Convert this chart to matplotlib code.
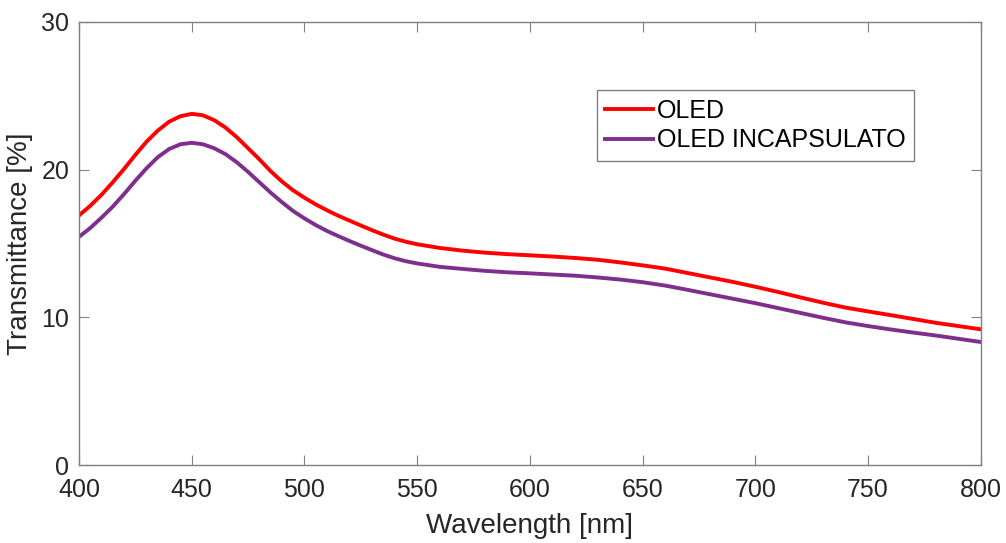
import matplotlib.pyplot as plt

plt.rcParams['font.family'] = ['Liberation Sans', 'DejaVu Sans']

# wavelength grid [nm]
wavelength = [400, 405, 410, 415, 420, 425, 430, 435, 440, 445, 450, 455, 460, 465,
              470, 475, 480, 485, 490, 495, 500, 505, 510, 515, 520, 525, 530, 535,
              540, 545, 550, 560, 570, 580, 590, 600, 610, 620, 630, 640, 650, 660,
              670, 680, 690, 700, 710, 720, 730, 740, 750, 760, 770, 780, 790, 800]

# transmittance [%]
oled = [16.9, 17.55, 18.3, 19.15, 20.05, 21.0, 21.9, 22.65, 23.25, 23.62, 23.78, 23.68,
        23.35, 22.85, 22.2, 21.45, 20.7, 19.9, 19.2, 18.6, 18.1, 17.65, 17.25, 16.88,
        16.55, 16.22, 15.9, 15.6, 15.33, 15.12, 14.95, 14.7, 14.52, 14.38, 14.28, 14.2,
        14.12, 14.02, 13.9, 13.72, 13.52, 13.3, 13.0, 12.7, 12.4, 12.07, 11.72, 11.35,
        10.99, 10.66, 10.4, 10.15, 9.89, 9.63, 9.41, 9.19]
oled_inc = [15.45, 16.05, 16.75, 17.5, 18.35, 19.25, 20.1, 20.85, 21.4, 21.72, 21.82,
            21.72, 21.45, 21.05, 20.5, 19.85, 19.15, 18.45, 17.8, 17.2, 16.7, 16.25,
            15.85, 15.5, 15.17, 14.85, 14.55, 14.25, 14.0, 13.8, 13.65, 13.42, 13.28,
            13.15, 13.05, 12.98, 12.9, 12.82, 12.7, 12.56, 12.38, 12.15, 11.86, 11.56,
            11.26, 10.96, 10.63, 10.3, 9.97, 9.66, 9.41, 9.18, 8.97, 8.77, 8.55, 8.33]

fig = plt.figure(figsize=(10.06, 5.43), dpi=100)
ax = fig.add_axes([0.0785, 0.1436, 0.8965, 0.8159])

ax.plot(wavelength, oled, color='#FF0000', lw=2.8, label='OLED')
ax.plot(wavelength, oled_inc, color='#7E2F8E', lw=2.8, label='OLED INCAPSULATO')

ax.set_xlim(400, 800)
ax.set_ylim(0, 30)
ax.set_xticks(range(400, 801, 50))
ax.set_yticks([0, 10, 20, 30])

gray = '#262626'
for s in ax.spines.values():
    s.set_color('#808080')
    s.set_linewidth(1.0)
ax.tick_params(direction='in', length=7, width=0.8, color='#808080',
               labelcolor=gray, labelsize=18, top=True, right=True)
ax.tick_params(axis='x', pad=9)
ax.tick_params(axis='y', pad=7)

ax.set_xlabel('Wavelength [nm]', fontsize=20, color=gray, labelpad=8)
ax.set_ylabel('Transmittance [%]', fontsize=20, color=gray, labelpad=6)

leg = ax.legend(loc='upper left', bbox_to_anchor=(0.574, 0.846), fontsize=18,
                fancybox=False, framealpha=1, edgecolor='#808080',
                handlelength=1.9, handletextpad=0.15, borderpad=0.35,
                labelspacing=0.22, borderaxespad=0)
leg.get_frame().set_linewidth(1.0)

fig.savefig('out.png', dpi=100)
